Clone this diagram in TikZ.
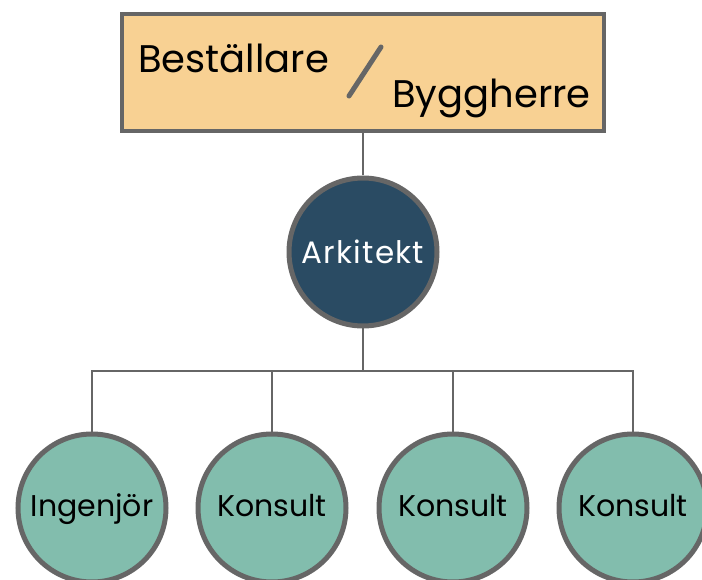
\documentclass[tikz,border=0pt]{standalone}
\usepackage{fontspec}
\setmainfont{Poppins}
\usetikzlibrary{positioning,shapes}

\definecolor{rimgray}{HTML}{666666}
\definecolor{sandfill}{HTML}{F8D193}
\definecolor{navyfill}{HTML}{2A4B63}
\definecolor{tealfill}{HTML}{82BDAD}

\begin{document}
\begin{tikzpicture}[x = 1pt, y = -1pt,
  rolebox/.style = {draw = rimgray, fill = sandfill, line width = 4.5pt, minimum width = 482pt, minimum height = 117pt, inner sep = 0pt},
  leadcircle/.style = {circle, draw = rimgray, fill = navyfill, line width = 5pt, minimum size = 148pt, inner sep = 0pt, text = white, font = \fontsize{31}{36}\selectfont\addfontfeature{LetterSpace=4}},
  teamcircle/.style = {circle, draw = rimgray, fill = tealfill, line width = 5pt, minimum size = 148pt, inner sep = 0pt, text height = 22pt, text depth = 6pt, font = \fontsize{30}{35}\selectfont},
  link/.style = {draw = rimgray, line width = 1.5pt}]
\clip (0,0) rectangle (702,580);
\fill[white] (0,0) rectangle (702,580);
% top box
\node[rolebox] (client) at (363,72.5) {};
\node[anchor=base west, inner sep=0pt, font=\fontsize{38.5}{44}\selectfont] (orderer) at (138,73) {Beställare};
\node[anchor=base west, inner sep=0pt, font=\fontsize{38.5}{44}\selectfont] (builder) at (392,108) {Byggherre};
\draw[rimgray, line width = 5pt, line cap = round] (349,96) -- (381,47);
% architect
\node[leadcircle] (arch) at (363,252) {Arkitekt};
% team
\node[teamcircle] (eng) at (92,508) {Ingenjör};
\node[teamcircle] (cons1) at (272,508) {Konsult};
\node[teamcircle] (cons2) at (453,508) {Konsult};
\node[teamcircle] (cons3) at (633,508) {Konsult};
\coordinate (split) at (363,371);
\draw[link] (client.south) -- (arch.north);
\draw[link] (arch.south) -- (split);
\foreach \n in {eng,cons1,cons2,cons3}
  \draw[link] (split) -| (\n.north);
\end{tikzpicture}
\end{document}
